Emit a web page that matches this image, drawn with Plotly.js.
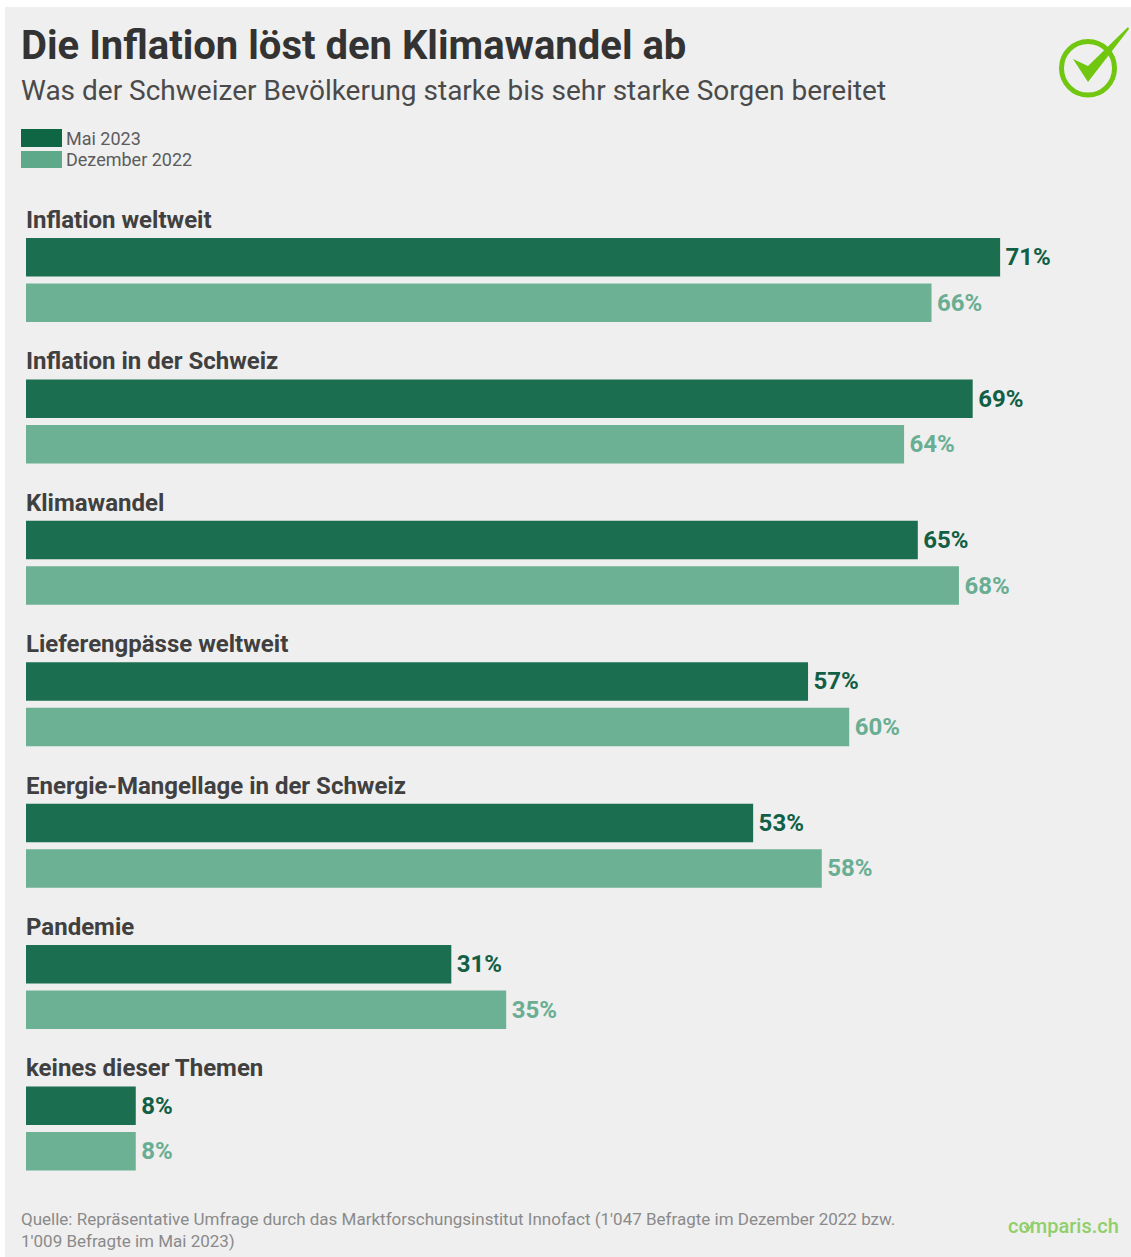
<!DOCTYPE html>
<html lang="de">
<head>
<meta charset="utf-8">
<title>Die Inflation löst den Klimawandel ab</title>
<script src="https://cdn.plot.ly/plotly-3.0.1.min.js"></script>
<style>html,body{margin:0;padding:0;background:#fff}#chart{width:1131px;height:1257px}</style>
</head>
<body>
<div id="chart"></div>
<script>
// Survey results in percent
const categories = ["Inflation weltweit", "Inflation in der Schweiz", "Klimawandel", "Lieferengpässe weltweit", "Energie-Mangellage in der Schweiz", "Pandemie", "keines dieser Themen"];
const mai2023 = [71, 69, 65, 57, 53, 31, 8];
const dezember2022 = [66, 64, 68, 60, 58, 35, 8];

const W = 1131, H = 1257;
const px = x => x / W;
const py = y => 1 - y / H;
const FONT = "Roboto, sans-serif";
const DARK = "#1b6e50", LIGHT = "#6db195";
const GREEN = "#71c70f";

// Annotations carry a small inner padding, so the anchor sits 2px left of the text edge
const label = (text, x, y, size, color, weight) => ({
  text, xref: "paper", yref: "paper", x: px(x - 2), y: py(y), xanchor: "left", yanchor: "middle",
  showarrow: false, align: "left", font: {family: FONT, size, color, weight}
});

const rect = (x0, y0, x1, y1, fill) => ({
  type: "rect", xref: "paper", yref: "paper", layer: "below",
  x0: px(x0), x1: px(x1), y0: py(y0), y1: py(y1), fillcolor: fill, line: {width: 0}
});

const polyPath = pts => "M" + pts.map(p => px(p[0]) + "," + py(p[1])).join("L");

const series = (name, values, color, textColor) => ({
  type: "bar", orientation: "h", name, x: values, y: categories,
  marker: {color}, texttemplate: "\u200A%{x}%", textposition: "outside", cliponaxis: false,
  constraintext: "none", textfont: {family: FONT, size: 24, color: textColor, weight: 700},
  hoverinfo: "y+x"
});

const data = [
  series("Mai 2023", mai2023, DARK, "#125f45"),
  series("Dezember 2022", dezember2022, LIGHT, "#69ae93")
];

const layout = {
  width: W, height: H, margin: {l: 0, r: 0, t: 0, b: 0},
  paper_bgcolor: "#ffffff", plot_bgcolor: "rgba(0,0,0,0)",
  showlegend: false, barmode: "group", bargap: 0.356, bargroupgap: 0.154,
  xaxis: {domain: [px(26), 1], range: [0, (W - 26) / 13.72], visible: false},
  yaxis: {domain: [py(1199.2), py(209.3)], type: "category", categoryorder: "array",
          categoryarray: categories, range: [6.5, -0.5], visible: false},
  shapes: [
    rect(5, 7, W, H, "#efefef"),
    rect(21, 129, 62, 147, "#0f6645"),
    rect(21, 151, 62, 168, "#5fa98b"),
    // check-mark roundel, top right
    {type: "circle", xref: "paper", yref: "paper", x0: px(1061.5), x1: px(1114.5), y0: py(95), y1: py(41.5),
     fillcolor: "rgba(0,0,0,0)", line: {color: GREEN, width: 5}},
    {type: "path", xref: "paper", yref: "paper", fillcolor: GREEN, line: {width: 0},
     path: polyPath([[1073, 59], [1088, 66], [1128, 27], [1129, 29], [1088, 82]]) + "Z"},
    // small tick through the "o" of the wordmark
    {type: "path", xref: "paper", yref: "paper", line: {color: "#8fcf6a", width: 1.5},
     path: polyPath([[1024.5, 1226], [1028, 1230.5], [1034, 1221]])}
  ],
  annotations: [
    label("Die Inflation löst den Klimawandel ab", 21, 46, 40, "#333333", 700),
    label("Was der Schweizer Bevölkerung starke bis sehr starke Sorgen bereitet", 21, 90.5, 28, "#4a4a4a", 400),
    label("Mai 2023", 66, 138, 18, "#5c5c5c", 400),
    label("Dezember 2022", 66, 160, 18, "#5c5c5c", 400),
    label("Quelle: Repräsentative Umfrage durch das Marktforschungsinstitut Innofact (1'047 Befragte im Dezember 2022 bzw.<br>1'009 Befragte im Mai 2023)",
          21, 1229.5, 17, "#8a8a8a", 400),
    label("comparis.ch", 1007.5, 1226, 20, "#8fcf6a", 500)
  ].concat(categories.map(c => ({
    text: c, xref: "x", yref: "y", x: 0, y: c, xanchor: "left", yanchor: "middle", xshift: -2, yshift: 60, showarrow: false,
    font: {family: FONT, size: 24, color: "#404040", weight: 700}
  })))
};

Plotly.newPlot("chart", data, layout, {displayModeBar: false});
</script>
</body>
</html>
